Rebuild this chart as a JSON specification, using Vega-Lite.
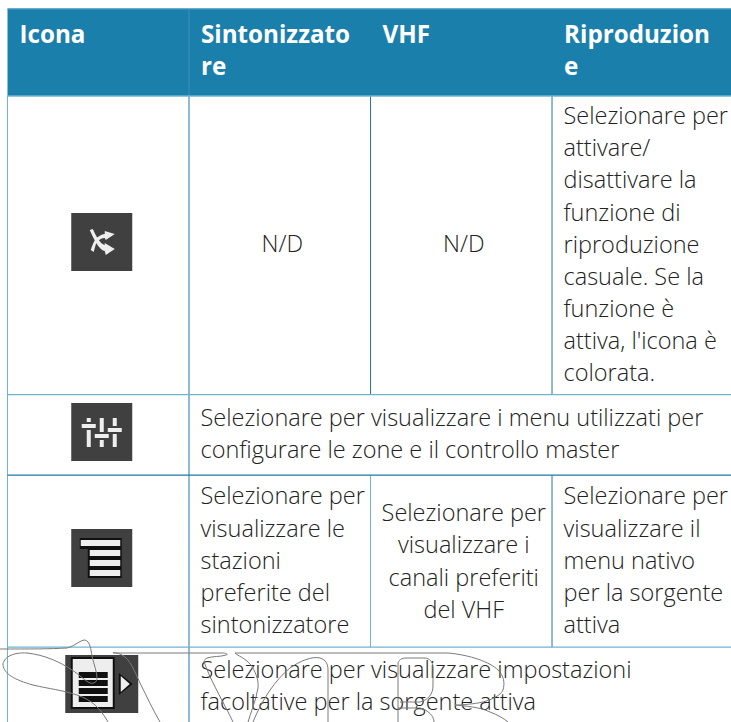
{
"$schema":"https://vega.github.io/schema/vega-lite/v6.json",
"width":731,"height":722,"autosize":"none","padding":0,"background":"#ffffff",
"config":{"view":{"stroke":null}},
"datasets":{
"testata":[{"da_col":0,"a_col":4,"da_riga":-0.06,"a_riga":2.65}],
"verticali":[
{"colonna":0,"da_riga":2.65,"a_riga":22.15,"tono":"chiaro"},
{"colonna":1,"da_riga":2.65,"a_riga":22.15,"tono":"scuro"},
{"colonna":2,"da_riga":2.65,"a_riga":11.95,"tono":"scuro"},
{"colonna":2,"da_riga":14.46,"a_riga":19.82,"tono":"chiaro"},
{"colonna":3,"da_riga":2.65,"a_riga":11.95,"tono":"scuro"},
{"colonna":3,"da_riga":14.46,"a_riga":19.82,"tono":"scuro"},
{"colonna":1,"da_riga":-0.06,"a_riga":2.65,"tono":"testata"}],
"orizzontali":[
{"riga":-0.06,"da_col":0,"a_col":4,"tono":"medio"},
{"riga":2.65,"da_col":0,"a_col":4,"tono":"chiaro"},
{"riga":11.95,"da_col":0,"a_col":4,"tono":"chiaro"},
{"riga":14.46,"da_col":0,"a_col":4,"tono":"scuro"},
{"riga":19.82,"da_col":0,"a_col":4,"tono":"chiaro"}],
"intestazioni":[
{"testo":"Icona","colonna":0,"riga":1},
{"testo":"Sintonizzato","colonna":1,"riga":1},
{"testo":"re","colonna":1,"riga":2},
{"testo":"VHF","colonna":2,"riga":1},
{"testo":"Riproduzion","colonna":3,"riga":1},
{"testo":"e","colonna":3,"riga":2}],
"sinistra":[
{"testo":"Selezionare per","colonna":3,"riga":3.52},
{"testo":"attivare/","colonna":3,"riga":4.52},
{"testo":"disattivare la","colonna":3,"riga":5.52},
{"testo":"funzione di","colonna":3,"riga":6.54},
{"testo":"riproduzione","colonna":3,"riga":7.54},
{"testo":"casuale. Se la","colonna":3,"riga":8.54},
{"testo":"funzione è","colonna":3,"riga":9.54},
{"testo":"attiva, l'icona è","colonna":3,"riga":10.52},
{"testo":"colorata.","colonna":3,"riga":11.52},
{"testo":"Selezionare per visualizzare i menu utilizzati per","colonna":1,"riga":12.93},
{"testo":"configurare le zone e il controllo master","colonna":1,"riga":13.93},
{"testo":"Selezionare per","colonna":1,"riga":15.37},
{"testo":"visualizzare le","colonna":1,"riga":16.39},
{"testo":"stazioni","colonna":1,"riga":17.39},
{"testo":"preferite del","colonna":1,"riga":18.39},
{"testo":"sintonizzatore","colonna":1,"riga":19.39},
{"testo":"Selezionare per","colonna":3,"riga":15.37},
{"testo":"visualizzare il","colonna":3,"riga":16.39},
{"testo":"menu nativo","colonna":3,"riga":17.39},
{"testo":"per la sorgente","colonna":3,"riga":18.39},
{"testo":"attiva","colonna":3,"riga":19.39},
{"testo":"Selezionare per visualizzare impostazioni","colonna":1,"riga":20.77},
{"testo":"facoltative per la sorgente attiva","colonna":1,"riga":21.77}],
"centro":[
{"testo":"N/D","colonna":1.5,"riga":7.52},
{"testo":"N/D","colonna":2.5,"riga":7.52},
{"testo":"Selezionare per","colonna":2.5,"riga":15.9},
{"testo":"visualizzare i","colonna":2.5,"riga":16.9},
{"testo":"canali preferiti","colonna":2.5,"riga":17.9},
{"testo":"del VHF","colonna":2.5,"riga":18.9}],
"icone":[
{"parte":"fondo","tinta":"fondo","colonna":0.5,"riga":7.2},
{"parte":"casuale","tinta":"chiara","colonna":0.5,"riga":7.2},
{"parte":"fondo","tinta":"fondo","colonna":0.5,"riga":13.12},
{"parte":"cursori","tinta":"chiara","colonna":0.5,"riga":13.12},
{"parte":"fondo","tinta":"fondo","colonna":0.5,"riga":17.04},
{"parte":"lista_bordo","tinta":"nera","colonna":0.5,"riga":17.04},
{"parte":"lista","tinta":"chiara","colonna":0.5,"riga":17.04},
{"parte":"fondo_largo","tinta":"fondo","colonna":0.5,"riga":20.97},
{"parte":"menu_bordo","tinta":"nera","colonna":0.5,"riga":20.97},
{"parte":"menu_foglio","tinta":"chiara","colonna":0.5,"riga":20.97},
{"parte":"menu_righe","tinta":"nera","colonna":0.5,"riga":20.97}],
"filigrana":[{"colonna":-0.0413,"riga":-0.34}]
},
"layer":[
{"data":{"name":"testata"},"mark":{"type":"rect","color":"#1b7fac"},
 "encoding":{"x":{"field":"da_col","type":"quantitative","scale":{"domain":[-0.0413,3.986],"nice":false,"zero":false},"axis":null},"x2":{"field":"a_col"},
 "y":{"field":"da_riga","type":"quantitative","scale":{"domain":[-0.34,22.15],"reverse":true,"nice":false,"zero":false},"axis":null},"y2":{"field":"a_riga"}}},
{"data":{"name":"verticali"},"mark":{"type":"rule","strokeWidth":1},
 "encoding":{"x":{"field":"colonna","type":"quantitative","axis":null},"y":{"field":"da_riga","type":"quantitative","axis":null},"y2":{"field":"a_riga"},
 "stroke":{"field":"tono","type":"nominal","legend":null,"scale":{"domain":["chiaro","medio","scuro","testata"],"range":["#6fb4d0","#3c90b8","#1f77a8","#3a90b8"]}}}},
{"data":{"name":"orizzontali"},"mark":{"type":"rule","strokeWidth":1.3},
 "encoding":{"y":{"field":"riga","type":"quantitative","axis":null},"x":{"field":"da_col","type":"quantitative","axis":null},"x2":{"field":"a_col"},
 "stroke":{"field":"tono","type":"nominal","legend":null,"scale":{"domain":["chiaro","medio","scuro","testata"],"range":["#6fb4d0","#3c90b8","#1f77a8","#3a90b8"]}}}},
{"data":{"name":"intestazioni"},"mark":{"type":"text","align":"left","baseline":"alphabetic","dx":12,"font":"Open Sans","fontWeight":700,"fontSize":24.2,"color":"#ffffff"},
 "encoding":{"x":{"field":"colonna","type":"quantitative","axis":null},"y":{"field":"riga","type":"quantitative","axis":null},"text":{"field":"testo"}}},
{"data":{"name":"sinistra"},"mark":{"type":"text","align":"left","baseline":"alphabetic","dx":11.5,"font":"Open Sans","fontWeight":300,"fontSize":23.5,"color":"#222222"},
 "encoding":{"x":{"field":"colonna","type":"quantitative","axis":null},"y":{"field":"riga","type":"quantitative","axis":null},"text":{"field":"testo"}}},
{"data":{"name":"centro"},"mark":{"type":"text","align":"center","baseline":"alphabetic","dx":2.5,"font":"Open Sans","fontWeight":300,"fontSize":23.5,"color":"#222222"},
 "encoding":{"x":{"field":"colonna","type":"quantitative","axis":null},"y":{"field":"riga","type":"quantitative","axis":null},"text":{"field":"testo"}}},
{"data":{"name":"icone"},"mark":{"type":"point","filled":true,"size":4,"opacity":1,"xOffset":3.5,"strokeWidth":0},
 "encoding":{"x":{"field":"colonna","type":"quantitative","axis":null},"y":{"field":"riga","type":"quantitative","axis":null},
 "fill":{"field":"tinta","type":"nominal","legend":null,"scale":{"domain":["fondo","chiara","nera"],"range":["#404040","#eeeeee","#101010"]}},
 "shape":{"field":"parte","type":"nominal","legend":null,"scale":{"domain":["fondo","fondo_largo","casuale","cursori","lista_bordo","lista","menu_bordo","menu_foglio","menu_righe"],
 "range":[
 "M-30.5-29H30.5V29H-30.5Z",
 "M-36.5-29H36.5V29H-36.5Z",
 "M-12-12L-9-13C-6-7-2 2 3 3L3 1L13 7L4 13L3 9C-3 8-8-3-12-12ZM-11 8C-9 2-7-3-4-5C-1-7 1-8 3-8L3-11L13-8L4-2L3-4C0-4-3-2-5 0C-6 2-7 6-8 10Z",
 "M-15-14H-11V-10H-15ZM-20-8H-6V-4H-20ZM-15-2H-11V15H-15ZM-2-14H2V0H-2ZM-7 2H7V6H-7ZM-2 8H2V15H-2ZM11-14H15V-6H11ZM6-4H20V0H6ZM11 2H15V15H11Z",
 "M-22-20H20V-9H20V20H-14V-9H-22Z",
 "M-21-18H18.5V-12H-21ZM-12-8H18.5V-2H-12ZM-12 2H18.5V8H-12ZM-12 12H18.5V18H-12Z",
 "M-31-27H13V25H-31ZM17-11L31 0L17 11Z",
 "M-29-25H11V23H-29ZM19-8L28 0L19 8Z",
 "M-23-12H6V-6H-23ZM-23-4H6V2H-23ZM-23 4H6V10H-23ZM-23 12H6V18H-23Z"
 ]}}}},
{"data":{"name":"filigrana"},"mark":{"type":"point","filled":false,"opacity":1,"size":4,"stroke":"#7a7a7a","strokeWidth":1,"fill":null,
 "shape":"M0 649C30 649 50 649 67 648C75 646 80 640 85 640C90 641 91 650 92 656C94 665 97 672 97 678C97 682 94 684 90 683C85 681 80 675 72 670C60 662 45 655 27 653C12 652 3 658 3 665C4 674 15 680 33 685C50 689 62 690 77 695C92 700 100 708 108 722M113 653C113 652 118 653 122 655C130 659 135 672 140 683C147 697 153 710 160 722M113 653H222C228 653 228 655 226 655C220 657 213 656 207 658C203 660 204 662 206 667C213 685 225 705 233 722M235 653H448C470 655 490 662 498 670C504 676 505 683 503 690C500 697 485 703 470 704C463 705 458 705 455 705C465 706 480 707 490 712C498 715 503 718 508 722M235 653C238 656 245 658 250 664C255 670 259 680 258 688C256 700 251 712 248 722M253 722C262 700 275 680 290 668C300 661 312 656 320 658C326 660 328 664 328 670V722M398 722V664C398 660 402 658 406 658H424C430 658 433 662 433 668V686C433 694 428 700 420 702H400M398 708H420C428 710 434 716 434 722"},
 "encoding":{"x":{"field":"colonna","type":"quantitative","axis":null},"y":{"field":"riga","type":"quantitative","axis":null}}}
]}
